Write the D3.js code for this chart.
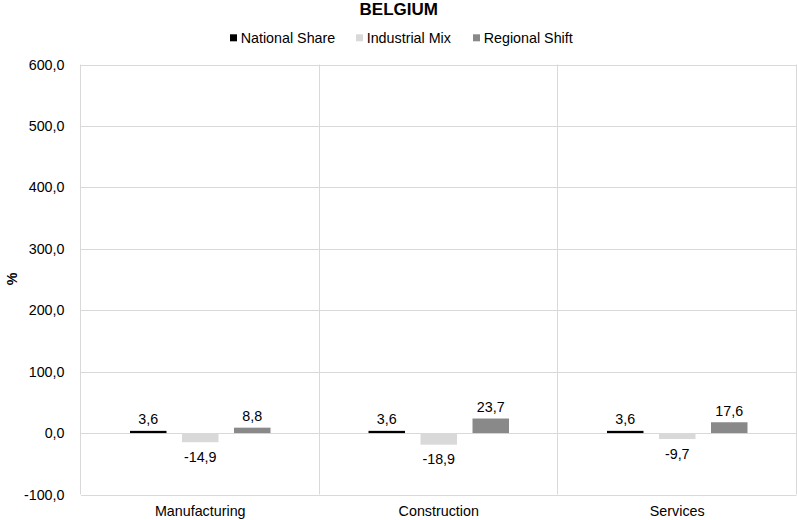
<!DOCTYPE html>
<html><head><meta charset="utf-8">
<script src="https://cdn.jsdelivr.net/npm/d3@7"></script>
<style>body{margin:0;background:#fff}svg{display:block;font-family:"Liberation Sans",Arial,sans-serif}</style>
</head><body><svg id="c" width="797" height="520"></svg>
<script>
const title = "BELGIUM";
const categories = ["Manufacturing", "Construction", "Services"];
const seriesNames = ["National Share", "Industrial Mix", "Regional Shift"];
const nationalShare = [3.6, 3.6, 3.6];
const industrialMix = [-14.9, -18.9, -9.7];
const regionalShift = [8.8, 23.7, 17.6];
const seriesColors = ["#000000", "#d9d9d9", "#898989"];
const yTicks = [-100, 0, 100, 200, 300, 400, 500, 600];
const yLabel = "%";

const seriesValues = [nationalShare, industrialMix, regionalShift];
const svg = d3.select("#c");
const L = 81, R = 796.5, T = 64.5, B = 494.5;
const FS = 14.3;
const x = d3.scaleBand().domain(categories).range([L, R]).padding(0);
const y = d3.scaleLinear().domain([-100, 600]).range([B, T]);
const loc = d3.formatLocale({decimal: ",", thousands: ".", grouping: [3], currency: ["", ""], minus: "-"});
const fmt = loc.format(".1f");
const grid = "#d9d9d9";

// horizontal gridlines
svg.append("g").selectAll("line").data(yTicks).join("line")
  .attr("x1", L).attr("x2", R)
  .attr("y1", d => Math.round(y(d)) + 0.5).attr("y2", d => Math.round(y(d)) + 0.5)
  .attr("stroke", grid).attr("stroke-width", 1);
// vertical category separators and borders
const vx = [L].concat(categories.map(c => x(c) + x.bandwidth()));
svg.append("g").selectAll("line").data(vx).join("line")
  .attr("x1", d => Math.round(d) - 0.5).attr("x2", d => Math.round(d) - 0.5)
  .attr("y1", T).attr("y2", B)
  .attr("stroke", grid).attr("stroke-width", 1);

// y tick labels
svg.append("g").selectAll("text").data(yTicks).join("text")
  .attr("x", 64.5).attr("y", d => y(d)).attr("dy", "0.35em")
  .attr("text-anchor", "end").attr("font-size", FS).attr("fill", "#000")
  .text(d => fmt(d));

// y axis title
svg.append("text").attr("transform", "translate(17,279) rotate(-90)")
  .attr("text-anchor", "middle").attr("font-size", FS).attr("font-weight", "bold").text(yLabel);

// x labels
svg.append("g").selectAll("text").data(categories).join("text")
  .attr("x", d => x(d) + x.bandwidth() / 2).attr("y", 515.5)
  .attr("text-anchor", "middle").attr("font-size", FS).text(d => d);

// bars
const barW = 36.5, step = 52;
const sub = d3.scaleLinear().domain([0, 2]).range([-step, step]);
seriesValues.forEach((vals, si) => {
  const g = svg.append("g");
  const data = categories.map((c, i) => ({c, v: vals[i]}));
  g.selectAll("rect").data(data).join("rect")
    .attr("x", d => x(d.c) + x.bandwidth() / 2 + sub(si) - barW / 2)
    .attr("width", barW)
    .attr("y", d => Math.min(y(d.v), y(0)))
    .attr("height", d => Math.abs(y(d.v) - y(0)))
    .attr("fill", seriesColors[si]);
  g.selectAll("text").data(data).join("text")
    .attr("x", d => x(d.c) + x.bandwidth() / 2 + sub(si))
    .attr("y", d => d.v >= 0 ? y(d.v) - 6.5 : y(d.v) + 19.5)
    .attr("text-anchor", "middle").attr("font-size", FS).text(d => fmt(d.v));
});

// title
svg.append("text").attr("x", 398.8).attr("y", 15.3).attr("text-anchor", "middle")
  .attr("font-size", 17).attr("font-weight", "bold").text(title);

// legend
const legX = [230, 356, 473];
const leg = svg.append("g");
seriesNames.forEach((n, i) => {
  leg.append("rect").attr("x", legX[i]).attr("y", 34.3).attr("width", 7).attr("height", 7).attr("fill", seriesColors[i]);
  leg.append("text").attr("x", legX[i] + 10.7).attr("y", 43).attr("font-size", FS).text(n);
});
</script></body></html>
